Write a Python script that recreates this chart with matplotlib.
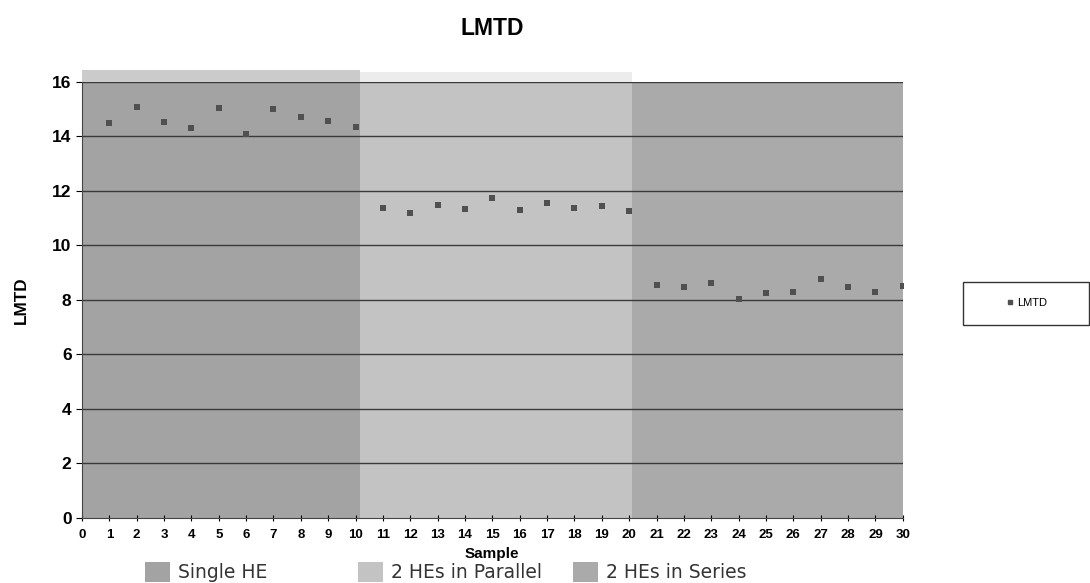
import matplotlib.pyplot as plt
import matplotlib.patches as mpatches
import numpy as np

# LMTD per sample
sample = list(range(1, 31))
lmtd = [14.48, 15.09, 14.54, 14.30, 15.03, 14.09, 15.00, 14.73, 14.57, 14.34,
        11.36, 11.18, 11.49, 11.33, 11.73, 11.30, 11.55, 11.37, 11.45, 11.28,
        8.55, 8.49, 8.61, 8.04, 8.27, 8.28, 8.76, 8.47, 8.31, 8.51]

# configuration bands behind the points
band_names = ["Single HE", "2 HEs in Parallel", "2 HEs in Series"]
band_edges = [0, 10.15, 20.1, 30]
band_colors = ["#a3a3a3", "#c3c3c3", "#aaaaaa"]

xticks = list(range(0, 31))
yticks = list(range(0, 17, 2))

plt.rcParams['font.family'] = ['Liberation Sans', 'DejaVu Sans']

W, H = 1090, 583
fig = plt.figure(figsize=(W / 100, H / 100), dpi=100)
ax = fig.add_axes([0.0752, 0.1115, 0.753, 0.748])

for i in range(3):
    ax.axvspan(band_edges[i], band_edges[i + 1], color=band_colors[i], zorder=0, lw=0)

# faint top strip above the first two bands (as in the scan)
ax.add_patch(mpatches.Rectangle((band_edges[0], 16), band_edges[1] - band_edges[0], 0.45,
                                color="#cbcbcb", clip_on=False, lw=0, zorder=0))
ax.add_patch(mpatches.Rectangle((band_edges[1], 16), band_edges[2] - band_edges[1], 0.35,
                                color="#ececec", clip_on=False, lw=0, zorder=0))

for y in yticks[1:]:
    ax.axhline(y, color="#3a3a3a", lw=1.0, zorder=1)

ax.scatter(sample, lmtd, marker="s", s=18, color="#505050", zorder=3, lw=0)

ax.set_xlim(0, 30)
ax.set_ylim(0, 16)
ax.set_xticks(xticks)
ax.set_yticks(yticks)
ax.tick_params(axis="x", direction="inout", length=4, labelsize=9.5, pad=6)
ax.tick_params(axis="y", direction="out", length=4, labelsize=12.5)
for lab in ax.get_xticklabels() + ax.get_yticklabels():
    lab.set_fontweight("bold")

for s in ["top", "right"]:
    ax.spines[s].set_visible(False)
ax.spines["left"].set_color("#444444")
ax.spines["bottom"].set_color("#444444")

ax.set_title("LMTD", fontsize=16.5, fontweight="bold", pad=34)
ax.set_ylabel("LMTD", fontsize=12.3, fontweight="bold", labelpad=17)
ax.set_xlabel("Sample", fontsize=11, fontweight="bold", labelpad=4)

# band legend under the axis, fixed-width columns like the original
patch_x = [145, 358, 573]
for px, c, n in zip(patch_x, band_colors, band_names):
    fig.patches.append(mpatches.Rectangle((px / W, 1 - 582 / H), 25 / W, 20 / H,
                                          transform=fig.transFigure, color=c, lw=0))
    fig.text((px + 33) / W, 1 - 572 / H, n, family="DejaVu Sans", fontsize=13.5,
             color="#333333", va="center", ha="left")

# series legend box on the right
fig.patches.append(mpatches.Rectangle((963 / W, 1 - 325 / H), 126 / W, 43 / H,
                                      transform=fig.transFigure, fill=False,
                                      edgecolor="#333333", lw=1.0))
fig.legend(handles=[plt.Line2D([], [], marker="s", ls="", color="#505050", markersize=3.5,
                               label="LMTD")],
           loc="center", bbox_to_anchor=(1026 / W, 1 - 303 / H), frameon=False,
           fontsize=8, handletextpad=0.1, handlelength=1.0, borderaxespad=0)

fig.savefig("out.png", dpi=100)
